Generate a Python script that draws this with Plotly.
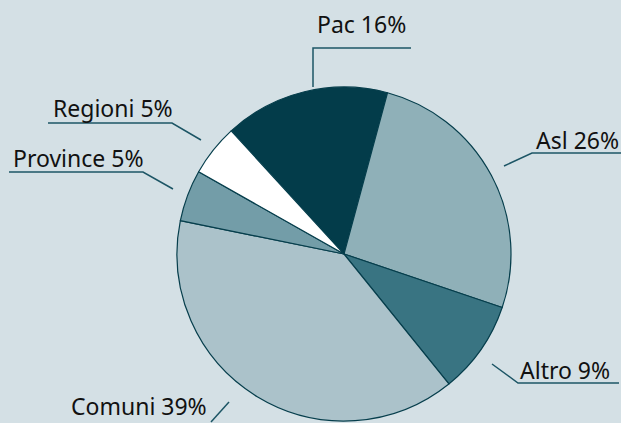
"""Pie chart: distribution by entity (Pac, Asl, Altro, Comuni, Province, Regioni)."""

import plotly.graph_objects as go

# ── Data ───────────────────────────────────────────────────────────────────
labels = ["Pac", "Asl", "Altro", "Comuni", "Province", "Regioni"]
values = [16, 26, 9, 39, 5, 5]
colors = ["#033c4a", "#8fb0b8", "#397482", "#abc2ca", "#739da8", "#ffffff"]

# ── Style ──────────────────────────────────────────────────────────────────
W, H = 621, 423
BG = "#d4e0e5"
EDGE = "#063e4c"
LEADER = "#1c5565"
TEXT = "#111111"

# pie centre/radius in pixels
CX, CY, R = 344, 254, 167

# label placement (pixels): text centre, then leader polyline points
label_layout = {
    "Pac": {"text": (361, 24), "line": [(411, 48), (313, 48), (313, 87)]},
    "Asl": {"text": (577, 140), "line": [(621, 153), (532, 153), (504, 166)]},
    "Altro": {"text": (565, 370), "line": [(619, 383), (518, 383), (492, 364)]},
    "Comuni": {"text": (139, 406), "line": [(211, 422), (229, 402)]},
    "Regioni": {"text": (113, 108), "line": [(48, 123), (172, 123), (201, 140)]},
    "Province": {"text": (78, 158), "line": [(9, 172), (143, 172), (173, 189)]},
}


def px_to_paper(x, y):
    return x / W, 1 - y / H


fig = go.Figure(
    go.Pie(
        labels=labels,
        values=values,
        sort=False,
        direction="clockwise",
        rotation=-42.5,
        textinfo="none",
        hoverinfo="label+percent",
        marker={"colors": colors, "line": {"color": EDGE, "width": 1.2}},
        domain={
            "x": [(CX - R) / W, (CX + R) / W],
            "y": [(H - CY - R) / H, (H - CY + R) / H],
        },
        showlegend=False,
    )
)

total = sum(values)
for lab, val in zip(labels, values):
    spec = label_layout[lab]
    tx, ty = px_to_paper(*spec["text"])
    fig.add_annotation(
        text=f"{lab} {round(100 * val / total)}%",
        x=tx,
        y=ty,
        xref="paper",
        yref="paper",
        xanchor="center",
        yanchor="middle",
        showarrow=False,
        font={"family": "Noto Sans", "size": 23, "color": TEXT},
    )
    pts = [px_to_paper(x, y) for x, y in spec["line"]]
    path = "M " + " L ".join(f"{x:.5f},{y:.5f}" for x, y in pts)
    fig.add_shape(
        type="path",
        path=path,
        xref="paper",
        yref="paper",
        line={"color": LEADER, "width": 1.5},
    )

fig.update_layout(
    width=W,
    height=H,
    margin={"l": 0, "r": 0, "t": 0, "b": 0},
    paper_bgcolor=BG,
    plot_bgcolor=BG,
)

# drop the browser's default 8px body margin so the figure fills the window
fig.write_html(
    "out.html",
    config={"displayModeBar": False},
    post_script="document.body.style.margin='0';",
)
